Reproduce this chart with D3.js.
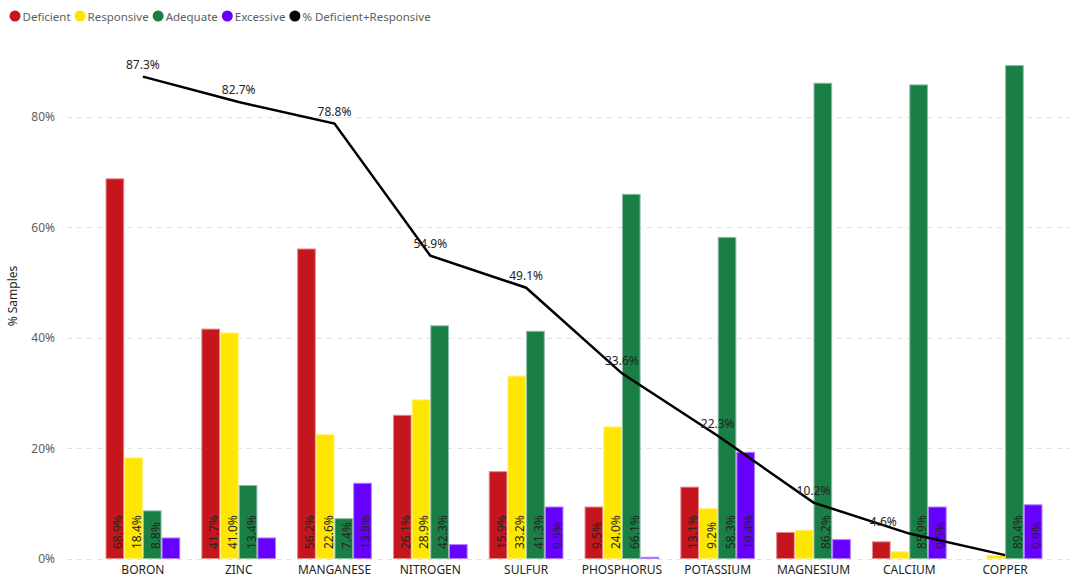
<!DOCTYPE html>
<html>
<head>
<meta charset="utf-8">
<script src="https://cdn.jsdelivr.net/npm/d3@7"></script>
<style>
    body { margin: 0; background: #fff; }
    text { font-family: "Segoe UI", "Noto Sans", "Open Sans", sans-serif; }
</style>
</head>
<body>
<div id="chart_parent"></div>
<script>
// nutrients, sorted by % deficient + responsive
const nutrients = ['BORON', 'ZINC', 'MANGANESE', 'NITROGEN', 'SULFUR', 'PHOSPHORUS', 'POTASSIUM', 'MAGNESIUM', 'CALCIUM', 'COPPER'];
const seriesNames = ['Deficient', 'Responsive', 'Adequate', 'Excessive'];
const deficient = [68.9, 41.7, 56.2, 26.1, 15.9, 9.5, 13.1, 4.9, 3.2, 0.0];
const responsive = [18.4, 41.0, 22.6, 28.9, 33.2, 24.0, 9.2, 5.3, 1.4, 0.7];
const adequate = [8.8, 13.4, 7.4, 42.3, 41.3, 66.1, 58.3, 86.2, 85.9, 89.4];
const excessive = [3.9, 3.9, 13.8, 2.7, 9.5, 0.4, 19.4, 3.6, 9.5, 9.9];
const defPlusResp = [87.3, 82.7, 78.8, 54.9, 49.1, 33.6, 22.3, 10.2, 4.6, 0.7];
const lineName = '% Deficient+Responsive';
const yTicks = [0, 20, 40, 60, 80];

const colours = ['#C4161C', '#FFE600', '#1A7F45', '#6600FF'];
const borders = ['#E58A8D', '#FFF27F', '#8CBFA2', '#B27FFF'];

const config = {
    width: 1070,
    height: 577,
    plotLeft: 95,
    plotRight: 1053,
    plotTop: 33,
    plotBottom: 559,
    yMax: 95.2,
    labelMinPct: 6.5,
};

const svg = d3.select('#chart_parent').append('svg')
    .attr('width', config.width)
    .attr('height', config.height);

const xScale = d3.scaleBand()
    .domain(nutrients)
    .range([config.plotLeft, config.plotRight])
    .paddingInner(0.22)
    .paddingOuter(0.11);

const subScale = d3.scaleBand()
    .domain(seriesNames)
    .range([0, xScale.bandwidth()]);

const yScale = d3.scaleLinear()
    .domain([0, config.yMax])
    .range([config.plotBottom, config.plotTop]);

// gridlines + y axis
const yAxis = d3.axisLeft(yScale)
    .tickValues(yTicks)
    .tickFormat(d => `${d}%`)
    .tickSize(0)
    .tickPadding(12);

const yAxisGroup = svg.append('g')
    .attr('transform', `translate(67,0)`)
    .call(yAxis);
yAxisGroup.select('.domain').remove();
yAxisGroup.selectAll('text')
    .attr('fill', '#605E5C')
    .style('font-size', '12px');

svg.append('g').selectAll('line')
    .data(yTicks)
    .join('line')
    .attr('x1', 67)
    .attr('x2', 1070)
    .attr('y1', d => Math.round(yScale(d)) + 0.5)
    .attr('y2', d => Math.round(yScale(d)) + 0.5)
    .attr('stroke', '#E1E1E1')
    .attr('stroke-dasharray', '5,5');

svg.append('text')
    .attr('transform', `translate(17,${(config.plotTop + config.plotBottom) / 2}) rotate(-90)`)
    .attr('text-anchor', 'middle')
    .attr('fill', '#252423')
    .style('font-size', '12px')
    .text('% Samples');

// x axis
const xAxis = d3.axisBottom(xScale).tickSize(0).tickPadding(6);
const xAxisGroup = svg.append('g')
    .attr('transform', `translate(0,${config.plotBottom})`)
    .call(xAxis);
xAxisGroup.select('.domain').remove();
xAxisGroup.selectAll('text')
    .attr('fill', '#252423')
    .style('font-size', '12px');

// bars
const seriesValues = [deficient, responsive, adequate, excessive];
const barData = [];
nutrients.forEach((n, i) => {
    seriesNames.forEach((s, j) => {
        barData.push({ nutrient: n, series: s, idx: j, value: seriesValues[j][i] });
    });
});

const barGroup = svg.append('g');
barGroup.selectAll('rect')
    .data(barData.filter(d => d.value > 0))
    .join('rect')
    .attr('x', d => xScale(d.nutrient) + subScale(d.series) + 0.5)
    .attr('y', d => yScale(d.value) + 0.5)
    .attr('width', subScale.bandwidth() - 1)
    .attr('height', d => Math.max(0, yScale(0) - yScale(d.value) - 1))
    .attr('fill', d => colours[d.idx])
    .attr('stroke', d => borders[d.idx])
    .attr('stroke-width', 1);

// inside-base labels, rotated
barGroup.selectAll('text')
    .data(barData.filter(d => d.value >= config.labelMinPct))
    .join('text')
    .attr('transform', d => {
        const cx = xScale(d.nutrient) + subScale(d.series) + subScale.bandwidth() / 2;
        return `translate(${cx + 7.5},${config.plotBottom - 10}) rotate(-90)`;
    })
    .attr('text-anchor', 'start')
    .attr('fill', '#252423')
    .style('font-size', '12px')
    .text(d => `${d.value.toFixed(1)}%`);

// line
const lineData = nutrients.map((n, i) => ({ nutrient: n, value: defPlusResp[i] }));
const line = d3.line()
    .x(d => xScale(d.nutrient) + xScale.bandwidth() / 2)
    .y(d => yScale(d.value));

svg.append('path')
    .datum(lineData)
    .attr('d', line)
    .attr('fill', 'none')
    .attr('stroke', '#000')
    .attr('stroke-width', 2.5);

// line labels (copper hidden, calcium nudged left like the original)
const labelShift = { CALCIUM: -26 };
svg.append('g').selectAll('text')
    .data(lineData.filter(d => d.nutrient !== 'COPPER'))
    .join('text')
    .attr('x', d => xScale(d.nutrient) + xScale.bandwidth() / 2 + (labelShift[d.nutrient] || 0))
    .attr('y', d => yScale(d.value) - 8)
    .attr('text-anchor', 'middle')
    .attr('fill', '#252423')
    .style('font-size', '12px')
    .text(d => `${d.value.toFixed(1)}%`);

// legend
const legendItems = seriesNames.map((s, i) => ({ name: s, colour: colours[i] }))
    .concat([{ name: lineName, colour: '#000' }]);
const legend = svg.append('g').attr('transform', 'translate(0,16)');
let lx = 9.5;
legendItems.forEach(item => {
    legend.append('circle')
        .attr('cx', lx + 5.5)
        .attr('cy', 0)
        .attr('r', 5.5)
        .attr('fill', item.colour);
    const t = legend.append('text')
        .attr('x', lx + 13)
        .attr('y', 4.5)
        .attr('fill', '#605E5C')
        .style('font-size', '11.5px')
        .text(item.name);
    lx += 13 + t.node().getComputedTextLength() + 4;
});
</script>
</body>
</html>
